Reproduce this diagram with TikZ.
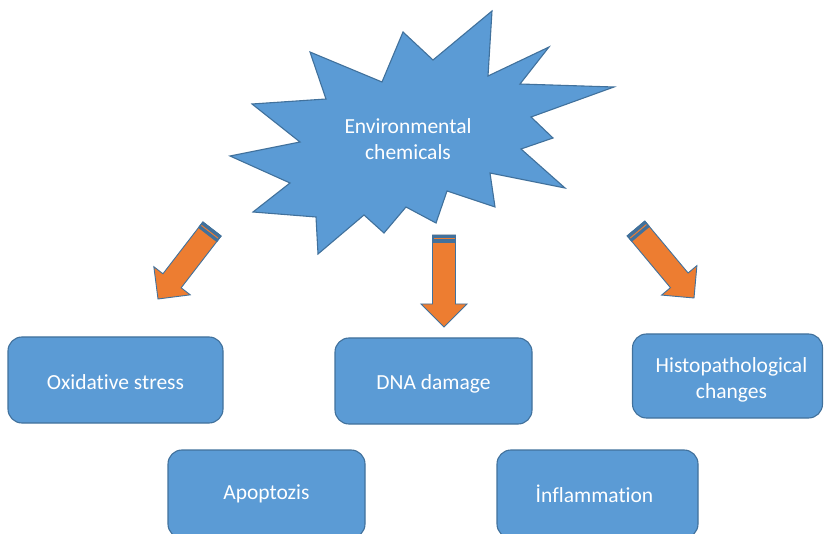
\documentclass[tikz,border=0pt]{standalone}
\usepackage{fontspec}
\setmainfont{Carlito}[Ligatures=NoCommon]
\usetikzlibrary{calc}
\definecolor{boxblue}{HTML}{5B9BD5}
\definecolor{edgeblue}{HTML}{41719C}
\definecolor{arroworange}{HTML}{ED7D31}

% Block arrow from a tail point (#1) to a tip point (#2)
\newcommand\blockarrow[2]{%
  \coordinate (ba-n) at ($(#2)!23pt!(#1)$);
  \coordinate (ba-c) at ($(#1)!7pt!(#2)$);
  \coordinate (ba-m) at ($(#1)!3.6pt!(#2)$);
  \filldraw[arrowbody]
    ($(#1)!11.5pt!90:(#2)$) -- ($(ba-n)!11.5pt!90:(#2)$) --
    ($(ba-n)!23pt!90:(#2)$) -- (#2) -- ($(ba-n)!23pt!-90:(#2)$) --
    ($(ba-n)!11.5pt!-90:(#2)$) -- ($(#1)!11.5pt!-90:(#2)$) -- cycle;
  \filldraw[arrowbody,fill=edgeblue]
    ($(#1)!11.5pt!90:(#2)$) -- ($(ba-c)!11.5pt!90:(#2)$) --
    ($(ba-c)!11.5pt!-90:(#2)$) -- ($(#1)!11.5pt!-90:(#2)$) -- cycle;
  \draw[arroworange,line width=1pt]
    ($(ba-m)!10.5pt!90:(#2)$) -- ($(ba-m)!10.5pt!-90:(#2)$);
}

\begin{document}
\begin{tikzpicture}[x=1pt,y=-1pt,
  card/.style={rectangle,rounded corners=14pt,fill=boxblue,draw=edgeblue,
    line width=1.1pt,inner sep=0pt},
  cardtext/.style={text=white,font=\fontsize{21.5}{26}\selectfont,align=center,inner sep=0pt},
  burst/.style={fill=boxblue,draw=edgeblue,line width=1.1pt,line join=miter},
  arrowbody/.style={fill=arroworange,draw=edgeblue,line width=0.9pt,line join=miter}]
\clip (0,0) rectangle (824,534);

% explosion shape
\filldraw[burst] (230,156) -- (300,142) -- (252,104) -- (326,99) -- (310,52)
  -- (382,82) -- (403,32) -- (433,60) -- (492,11) -- (488,76) -- (549,47)
  -- (520,84) -- (614,87) -- (531,117) -- (553,138) -- (521,149) -- (565,188)
  -- (490,173) -- (495,207) -- (447,191) -- (436,223) -- (406,207) -- (384,233)
  -- (364,215) -- (318,254) -- (316,217) -- (253,212) -- (290,183) -- cycle;
\node[cardtext] (env) at (408,139) {Environmental\\chemicals};

% effect boxes
\node[card,minimum width=215pt,minimum height=86pt,
  label={[cardtext,yshift=-2.5pt]center:Oxidative stress}] (ox) at (115.5,380) {};
\node[card,minimum width=197pt,minimum height=86pt,
  label={[cardtext,yshift=-2.5pt]center:DNA damage}] (dna) at (433.5,381) {};
\node[card,minimum width=190pt,minimum height=84pt,
  label={[cardtext,xshift=4pt,yshift=-4pt]center:{Histopathological\\changes}}] (hist) at (727.5,376) {};
\node[card,minimum width=197pt,minimum height=88pt,
  label={[cardtext]center:Apoptozis}] (apo) at (266.5,494) {};
\node[card,minimum width=201pt,minimum height=88pt,
  label={[cardtext,xshift=-3pt]center:İnflammation}] (infl) at (597.5,494) {};

% block arrows
\coordinate (la-t) at (212,229); \coordinate (la-h) at (158,299);
\coordinate (ma-t) at (444,235); \coordinate (ma-h) at (444,327);
\coordinate (ra-t) at (636,228.5); \coordinate (ra-h) at (694,298);
\blockarrow{la-t}{la-h}
\blockarrow{ma-t}{ma-h}
\blockarrow{ra-t}{ra-h}
\end{tikzpicture}
\end{document}
